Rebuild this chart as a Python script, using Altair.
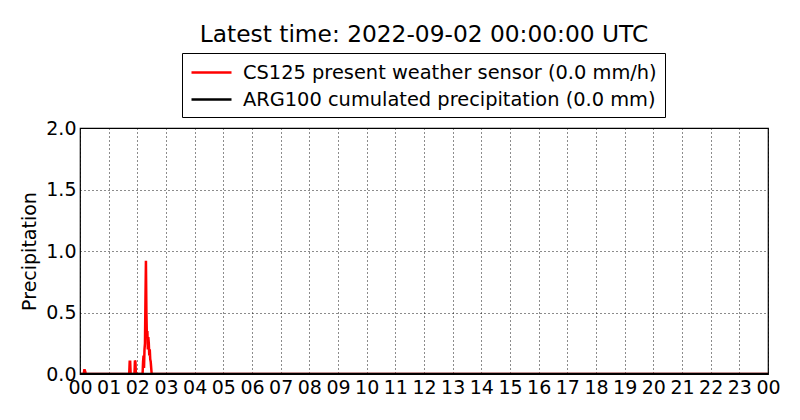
import altair as alt
import pandas as pd

# CS125 present weather sensor (mm/h), minutes since 00:00 UTC
cs125_minutes = [0, 8, 9, 10, 11, 12,
                 103, 104, 105, 106,
                 114, 115, 116, 117,
                 131, 132, 133, 134, 135, 136, 137, 138, 139, 140, 141,
                 142, 143, 144, 145, 146, 147, 148, 149, 150, 1440]
cs125_values = [0.0, 0.0, 0.03, 0.03, 0.02, 0.0,
                0.0, 0.1, 0.1, 0.0,
                0.0, 0.11, 0.1, 0.0,
                0.0, 0.1, 0.15, 0.05, 0.2, 0.25, 0.6, 0.92, 0.5, 0.3, 0.35,
                0.2, 0.3, 0.25, 0.15, 0.2, 0.12, 0.1, 0.05, 0.0, 0.0]

# ARG100 cumulated precipitation (mm)
arg_minutes = [0, 1440]
arg_values = [0.0, 0.0]

series_names = ["CS125 present weather sensor (0.0 mm/h)",
                "ARG100 cumulated precipitation (0.0 mm)"]
series_colors = ["#ff0000", "#000000"]

x_ticks = list(range(0, 25))
y_ticks = [0.0, 0.5, 1.0, 1.5, 2.0]

rows = []
for m, v in zip(cs125_minutes, cs125_values):
    rows.append({"hour": m / 60.0, "value": v, "series": series_names[0], "order": 0})
for m, v in zip(arg_minutes, arg_values):
    rows.append({"hour": m / 60.0, "value": v, "series": series_names[1], "order": 1})
df = pd.DataFrame(rows)

FONT = "DejaVu Sans"

chart = alt.Chart(df).mark_line(strokeWidth=2.5, clip=True).encode(
    x=alt.X("hour:Q",
            scale=alt.Scale(domain=[0, 24], nice=False, zero=False),
            axis=alt.Axis(values=x_ticks, title=None,
                          labelExpr="datum.value == 24 ? '00' : (datum.value < 10 ? '0' + datum.value : '' + datum.value)",
                          labelFlush=False, labelOverlap=False)),
    y=alt.Y("value:Q",
            scale=alt.Scale(domain=[0, 2.0], nice=False),
            axis=alt.Axis(values=y_ticks, format=".1f", title="Precipitation")),
    color=alt.Color("series:N",
                    scale=alt.Scale(domain=series_names, range=series_colors),
                    legend=alt.Legend(title=None, orient="none",
                                      legendX=102, legendY=-75,
                                      symbolType="M-2,0L2,0", symbolSize=400,
                                      symbolStrokeWidth=2.5, symbolOffset=10,
                                      labelFont=FONT, labelFontSize=19.4,
                                      labelColor="black", labelOffset=20,
                                      labelLimit=0,
                                      strokeColor="black", fillColor="white",
                                      padding=8, rowPadding=6,
                                      cornerRadius=0)),
    order=alt.Order("order:Q"),
).properties(
    width=688,
    height=246,
    title=alt.TitleParams("Latest time: 2022-09-02 00:00:00 UTC",
                          font=FONT, fontSize=23.3, fontWeight="normal",
                          color="black", anchor="middle", offset=5),
    autosize=alt.AutoSizeParams(type="none"),
    padding={"left": 72, "top": 120, "right": 20, "bottom": 30},
).configure_view(
    stroke="black", strokeWidth=1.2
).configure_axis(
    grid=True, gridColor="black", gridDash=[1, 3], gridOpacity=0.9, gridWidth=1,
    domain=False, ticks=False,
    labelFont=FONT, labelFontSize=19, labelColor="black", labelPadding=4,
    titleFont=FONT, titleFontSize=19, titleFontWeight="normal", titleColor="black",
).configure_axisY(
    titlePadding=6
)

chart.save("out.html", embed_options={"renderer": "svg", "actions": False})
